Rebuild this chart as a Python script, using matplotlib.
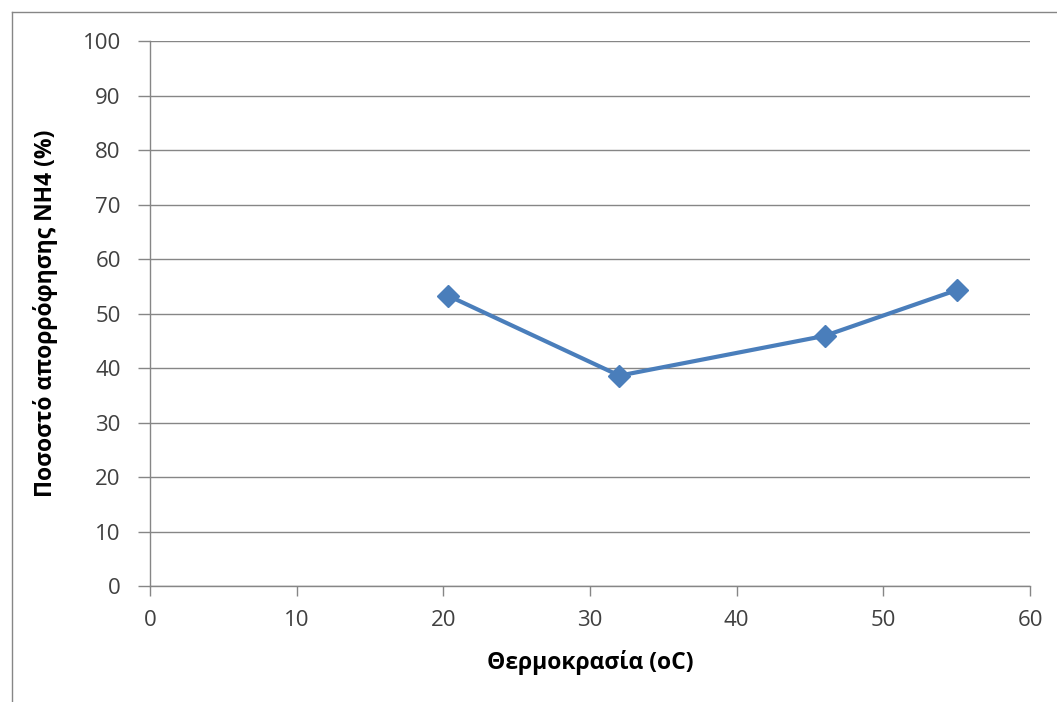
import matplotlib
matplotlib.use('Agg')
import matplotlib.pyplot as plt
from matplotlib.lines import Line2D

plt.rcParams['font.family'] = ['Open Sans', 'DejaVu Sans']

temperature = [20.3, 32, 46, 55]
absorption = [53.3, 38.6, 45.9, 54.3]
x_ticks = [0, 10, 20, 30, 40, 50, 60]
y_ticks = [0, 10, 20, 30, 40, 50, 60, 70, 80, 90, 100]

line_color = '#4a7ebb'
grid_color = '#868686'
text_color = '#404040'

fig = plt.figure(figsize=(10.57, 7.02), dpi=100)
ax = fig.add_axes([0.1419, 0.1652, 0.8326, 0.7764])

ax.plot(temperature, absorption, color=line_color, linewidth=3,
        marker='D', markersize=11, markerfacecolor=line_color,
        markeredgecolor=line_color, zorder=3)

ax.set_xlim(0, 60)
ax.set_ylim(0, 100)
ax.set_xticks(x_ticks)
ax.set_yticks(y_ticks)
ax.yaxis.grid(True, color=grid_color, linewidth=1)
ax.set_axisbelow(True)

for side in ['top', 'right']:
    ax.spines[side].set_visible(False)
for side in ['left', 'bottom']:
    ax.spines[side].set_color(grid_color)
    ax.spines[side].set_linewidth(1)

ax.tick_params(axis='both', colors=grid_color, labelcolor=text_color,
               labelsize=16, width=1)
ax.tick_params(axis='y', length=9, pad=12)
ax.tick_params(axis='x', length=7, pad=10)

ax.set_xlabel('Θερμοκρασία (oC)', fontsize=16.5, fontweight='bold',
              color='#000000', labelpad=14)
ax.set_ylabel('Ποσοστό απορρόφησης NH4 (%)', fontsize=16.5, fontweight='bold',
              color='#000000', labelpad=18)

# outer chart border (left and top edges visible)
fig.add_artist(Line2D([12 / 1057, 12 / 1057], [0, 1 - 12 / 702],
                      transform=fig.transFigure, color=grid_color, linewidth=1))
fig.add_artist(Line2D([12 / 1057, 1], [1 - 12 / 702, 1 - 12 / 702],
                      transform=fig.transFigure, color=grid_color, linewidth=1))

fig.savefig('out.png', dpi=100)
